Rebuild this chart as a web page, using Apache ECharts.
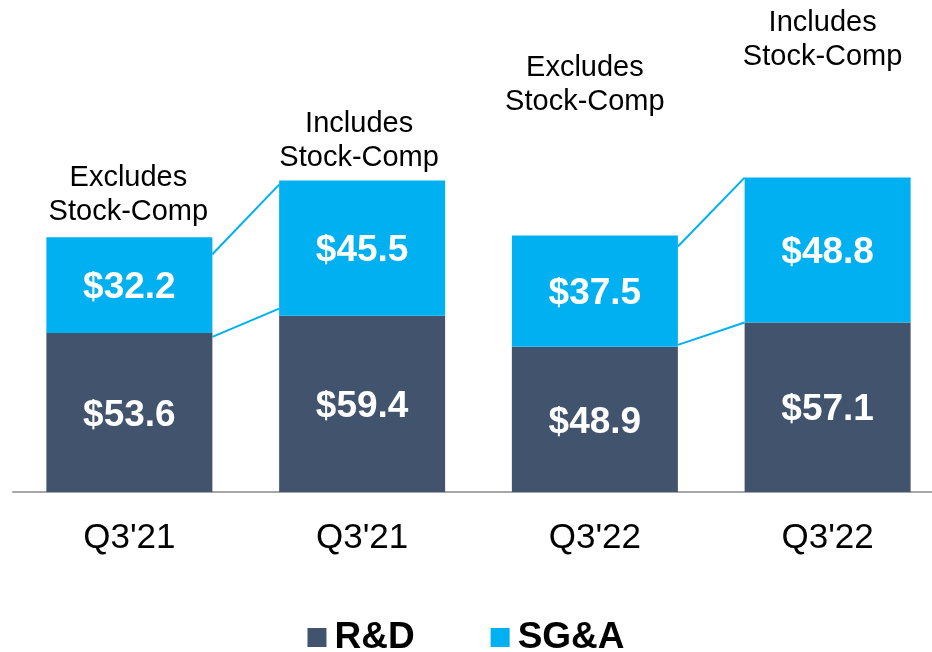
<!DOCTYPE html>
<html>
<head>
<meta charset="utf-8">
<script src="https://cdn.jsdelivr.net/npm/echarts@6/dist/echarts.min.js"></script>
<style>
  html, body { margin: 0; padding: 0; background: #fff; }
  #chart { width: 932px; height: 652px; }
</style>
</head>
<body>
<div id="chart"></div>
<script>
// 数据
const quarters = ["Q3'21", "Q3'21", "Q3'22", "Q3'22"]
const rdValues = [53.6, 59.4, 48.9, 57.1]
const sgaValues = [32.2, 45.5, 37.5, 48.8]
const notes = ['Excludes\nStock-Comp', 'Includes\nStock-Comp', 'Excludes\nStock-Comp', 'Includes\nStock-Comp']
// 连线：左柱 -> 右柱
const links = [[0, 1], [2, 3]]

const FONT = '"Liberation Sans", Arial, sans-serif'
const BAR_W = 166
const DARK = '#42546D'
const BLUE = '#00B0F0'
// 注释文字离柱顶的距离 / 水平偏移
const noteGap = [8, 6, 117, 104]
const noteShift = [-1, -3, -10, -5]
// 连线端点的微调 [上线起点, 上线终点, 下线起点, 下线终点]
const linkAdjust = [[17, 4, 4, -7], [11, 0, -2, 0]]

const totals = rdValues.map((v, i) => v + sgaValues[i])

const chart = echarts.init(document.getElementById('chart'))

const valueLabel = {
  show: true,
  position: 'inside',
  offset: [0, 3],
  color: '#fff',
  fontFamily: FONT,
  fontWeight: 'bold',
  fontSize: 37,
  formatter: (p) => '$' + p.value.toFixed(1)
}

const option = {
  animation: false,
  backgroundColor: '#fff',
  grid: { left: 13, top: 17, width: 931, height: 475, outerBoundsMode: 'none' },
  legend: {
    data: ['R&D', 'SG&A'],
    top: 614,
    left: 'center',
    itemWidth: 19,
    itemHeight: 19,
    itemGap: 76,
    icon: 'rect',
    textStyle: { fontFamily: FONT, fontWeight: 'bold', fontSize: 37, color: '#000', padding: [0, 0, 0, 3] }
  },
  xAxis: {
    type: 'category',
    data: quarters,
    axisTick: { show: false },
    axisLine: { lineStyle: { color: '#A6A6A6', width: 2 } },
    axisLabel: { margin: 29, fontFamily: FONT, fontSize: 35, color: '#000' }
  },
  yAxis: { type: 'value', min: 0, max: 160, show: false, splitLine: { show: false } },
  series: [
    {
      name: 'R&D',
      type: 'bar',
      stack: 'total',
      barWidth: BAR_W,
      data: rdValues,
      itemStyle: { color: DARK },
      label: valueLabel
    },
    {
      name: 'SG&A',
      type: 'bar',
      stack: 'total',
      barWidth: BAR_W,
      data: sgaValues,
      itemStyle: { color: BLUE },
      label: valueLabel
    },
    {
      // 柱子之间的连线
      type: 'custom',
      silent: true,
      z: 5,
      data: links,
      renderItem: (params, api) => {
        const a = api.value(0)
        const b = api.value(1)
        const adj = linkAdjust[params.dataIndex]
        const aTop = api.coord([a, totals[a]])
        const bTop = api.coord([b, totals[b]])
        const aMid = api.coord([a, rdValues[a]])
        const bMid = api.coord([b, rdValues[b]])
        const x1 = aTop[0] + BAR_W / 2
        const x2 = bTop[0] - BAR_W / 2
        const style = { stroke: BLUE, lineWidth: 2 }
        return {
          type: 'group',
          children: [
            { type: 'line', shape: { x1: x1, y1: aTop[1] + adj[0], x2: x2, y2: bTop[1] + adj[1] }, style: style },
            { type: 'line', shape: { x1: x1, y1: aMid[1] + adj[2], x2: x2, y2: bMid[1] + adj[3] }, style: style }
          ]
        }
      }
    },
    {
      // 柱顶注释
      type: 'custom',
      silent: true,
      z: 5,
      data: quarters.map((q, i) => [i, totals[i]]),
      renderItem: (params, api) => {
        const i = params.dataIndex
        const pt = api.coord([api.value(0), api.value(1)])
        return {
          type: 'text',
          x: pt[0] + noteShift[i],
          y: pt[1] - noteGap[i],
          style: {
            text: notes[i],
            fill: '#000',
            fontFamily: FONT,
            fontSize: 29,
            lineHeight: 34,
            align: 'center',
            verticalAlign: 'bottom'
          }
        }
      }
    }
  ]
}

chart.setOption(option)
</script>
</body>
</html>
